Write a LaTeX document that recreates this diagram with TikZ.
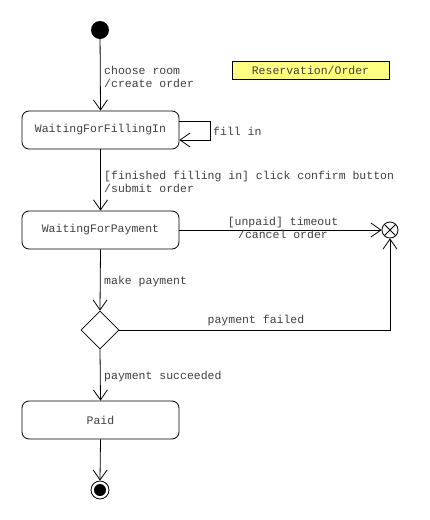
\documentclass[tikz,border=0pt]{standalone}
\usepackage{fontspec}
\setmonofont{Liberation Mono}
\usetikzlibrary{arrows.meta,shapes.geometric}
\definecolor{txt}{HTML}{404040}
\definecolor{notefill}{HTML}{FFFF80}
\tikzset{
  statebox/.style={draw, line width=0.8pt, rounded corners=7pt, minimum width=157pt, minimum height=38pt, inner sep=0pt, font=\ttfamily\fontsize{11.5}{13}\selectfont, text=txt},
  lbl/.style={font=\ttfamily\fontsize{11.5}{13}\selectfont, text=txt, inner sep=0pt, align=left},
  conn/.style={line width=0.8pt, -{Straight Barb[length=10pt,width=14pt,line width=0.8pt]}},
}
\begin{document}
\begin{tikzpicture}[x=1pt,y=-1pt]
\useasboundingbox (0,0) rectangle (430,520);
% initial
\node[circle, fill=black, minimum size=18pt, inner sep=0pt] (init) at (100,30) {};
% states
\node[statebox] (fill) at (100.5,130) {WaitingForFillingIn};
\node[statebox] (pay) at (100.5,230) {WaitingForPayment};
\node[statebox] (paid) at (100.5,420) {Paid};
% note
\node[draw, line width=0.8pt, fill=notefill, minimum width=157pt, minimum height=18pt, inner sep=0pt, font=\ttfamily\fontsize{11.5}{13}\selectfont, text=txt] (note) at (310.5,70) {Reservation/Order};
% decision
\node[diamond, draw, line width=0.8pt, minimum width=38pt, minimum height=38pt, inner sep=0pt] (dec) at (100,330) {};
% final X
\node[circle, draw, line width=0.8pt, minimum size=16pt, inner sep=0pt] (term) at (390,230) {};
\draw[line width=0.8pt] (term.north east) -- (term.south west) (term.north west) -- (term.south east);
% final state
\node[circle, draw, line width=0.8pt, minimum size=18pt, inner sep=0pt] (fin) at (100,490) {};
\node[circle, fill=black, minimum size=12pt, inner sep=0pt] (finin) at (fin.center) {};
% connectors
\draw[conn] (init) -- (fill.north);
\node[lbl, anchor=west] (l1) at (104,76.5) {choose room\\/create order};
\coordinate (s1) at (210,121);
\coordinate (s2) at (210,140);
\draw[conn] ([yshift=9pt]fill.east) -- (s1) -- (s2) -- ([yshift=-10pt]fill.east);
\node[lbl, anchor=west] (l2) at (213,131) {fill in};
\draw[conn] (fill.south) -- (pay.north);
\node[lbl, anchor=west] (l3) at (104,181.5) {[finished filling in] click confirm button\\/submit order};
\draw[conn] (pay.east) -- (term.west);
\node[lbl, align=center] (l4) at (283,227.5) {[unpaid] timeout\\/cancel order};
\draw[conn] (pay.south) -- (dec.north);
\node[lbl, anchor=west] (l5) at (104,282) {make payment};
\coordinate (c1) at (390,330);
\draw[conn] (dec.east) -- (c1) -- (term.south);
\node[lbl] (l6) at (256,321) {payment failed};
\draw[conn] (dec.south) -- (paid.north);
\node[lbl, anchor=west] (l7) at (104,377) {payment succeeded};
\draw[conn] (paid.south) -- (fin.north);
\end{tikzpicture}
\end{document}
